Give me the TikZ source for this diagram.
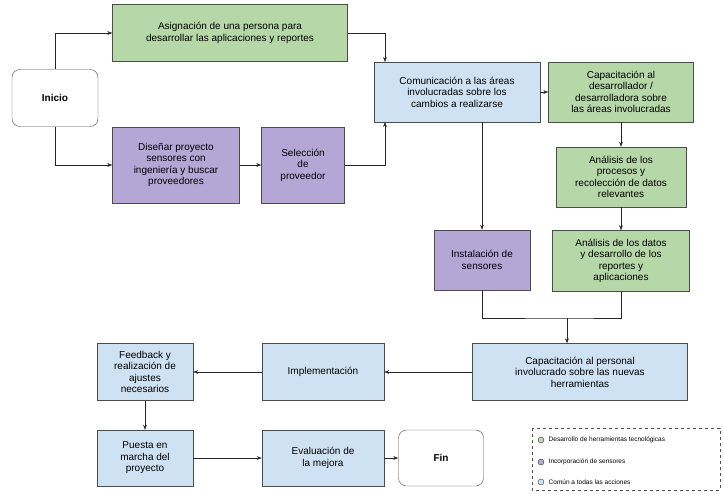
\documentclass[tikz,border=0pt]{standalone}
\usepackage{fontspec}
\setmainfont{Liberation Sans}
\usetikzlibrary{positioning,arrows.meta}
\definecolor{verde}{HTML}{B6D7A8}
\definecolor{morado}{HTML}{B4A7D6}
\definecolor{azul}{HTML}{CFE2F3}
\tikzset{
    caja/.style={draw=black!70, align=center, inner sep=1pt, font=\fontsize{10}{11.5}\selectfont},
    tec/.style={caja, fill=verde},
    sen/.style={caja, fill=morado},
    com/.style={caja, fill=azul},
    term/.style={caja, fill=white, rounded corners=8pt, font=\bfseries\fontsize{10}{12}\selectfont},
    flecha/.style={-{Stealth[length=5pt]}, black!85}
}
\begin{document}
\begin{tikzpicture}[x=1pt,y=-1pt]
    \useasboundingbox (0,0) rectangle (723,494);
        \node[term, minimum width=86, minimum height=57] (inicio) at (55,98) {Inicio};
        \node[tec, minimum width=235, minimum height=57] (asig) at (230,33) {Asignación de una persona para\\desarrollar las aplicaciones y reportes};
        \node[com, minimum width=166, minimum height=60] (comu) at (457,92) {Comunicación a las áreas\\involucradas sobre los\\cambios a realizarse};
        \node[tec, minimum width=145, minimum height=60] (capdes) at (621,92) {Capacitación al\\desarrollador /\\desarrolladora sobre\\las áreas involucradas};
        \node[tec, minimum width=130, minimum height=60] (anproc) at (621,177) {Análisis de los\\procesos y\\recolección de datos\\relevantes};
        \node[tec, minimum width=137, minimum height=61] (andat) at (621,261) {Análisis de los datos\\y desarrollo de los\\reportes y\\aplicaciones};
        \node[sen, minimum width=96, minimum height=60] (inst) at (482,260) {Instalación de\\sensores};
        \node[sen, minimum width=127, minimum height=76] (dise) at (176,165) {Diseñar proyecto\\sensores con\\ingeniería y buscar\\proveedores};
        \node[sen, minimum width=83, minimum height=76] (selec) at (303,165) {Selección\\de\\proveedor};
        \node[com, minimum width=215, minimum height=57] (cappers) at (580,372) {Capacitación al personal\\involucrado sobre las nuevas\\herramientas};
        \node[com, minimum width=122, minimum height=57] (impl) at (323,372) {Implementación};
        \node[com, minimum width=96, minimum height=57] (feed) at (145,372) {Feedback y\\realización de\\ajustes\\necesarios};
        \node[com, minimum width=96, minimum height=56] (puesta) at (145,458) {Puesta en\\marcha del\\proyecto};
        \node[com, minimum width=122, minimum height=56] (eval) at (323,458) {Evaluación de\\la mejora};
        \node[term, minimum width=85, minimum height=56] (fin) at (441,458) {Fin};

        % conexiones
        \draw[flecha] (inicio.north) |- (asig.west);
        \draw[flecha] (inicio.south) |- (dise.west);
        \draw[flecha] (asig.east) -| (385,62);
        \draw[flecha] (dise) -- (selec);
        \draw[flecha] (selec.east) -| (385,122);
        \draw[flecha] (comu) -- (capdes);
        \draw[flecha] (capdes) -- (anproc);
        \draw[flecha] (anproc) -- (andat);
        \draw[flecha] (comu.south -| inst.north) -- (inst.north);
        \coordinate (union) at (567,318);
        \draw[black!85] (inst.south) |- (union) -| (andat.south);
        \draw[flecha] (union) -- (union |- cappers.north);
        \draw[flecha] (cappers) -- (impl);
        \draw[flecha] (impl) -- (feed);
        \draw[flecha] (feed) -- (puesta);
        \draw[flecha] (puesta) -- (eval);
        \draw[flecha] (eval) -- (fin);

        % leyenda
        \draw[dashed, black!70] (532,428) rectangle (720,490);
        \begin{scope}[font=\fontsize{6.5}{8}\selectfont]
            \node[circle, draw=black!80, fill=verde, inner sep=0pt, minimum size=6] (lv) at (541,440) {};
            \node[right=1pt of lv] (tv) {Desarrollo de herramientas tecnológicas};
            \node[circle, draw=black!80, fill=morado, inner sep=0pt, minimum size=6] (lm) at (541,462) {};
            \node[right=1pt of lm] (tm) {Incorporación de sensores};
            \node[circle, draw=black!80, fill=azul, inner sep=0pt, minimum size=6] (la) at (541,482) {};
            \node[right=1pt of la] (ta) {Común a todas las acciones};
        \end{scope}
\end{tikzpicture}
\end{document}
